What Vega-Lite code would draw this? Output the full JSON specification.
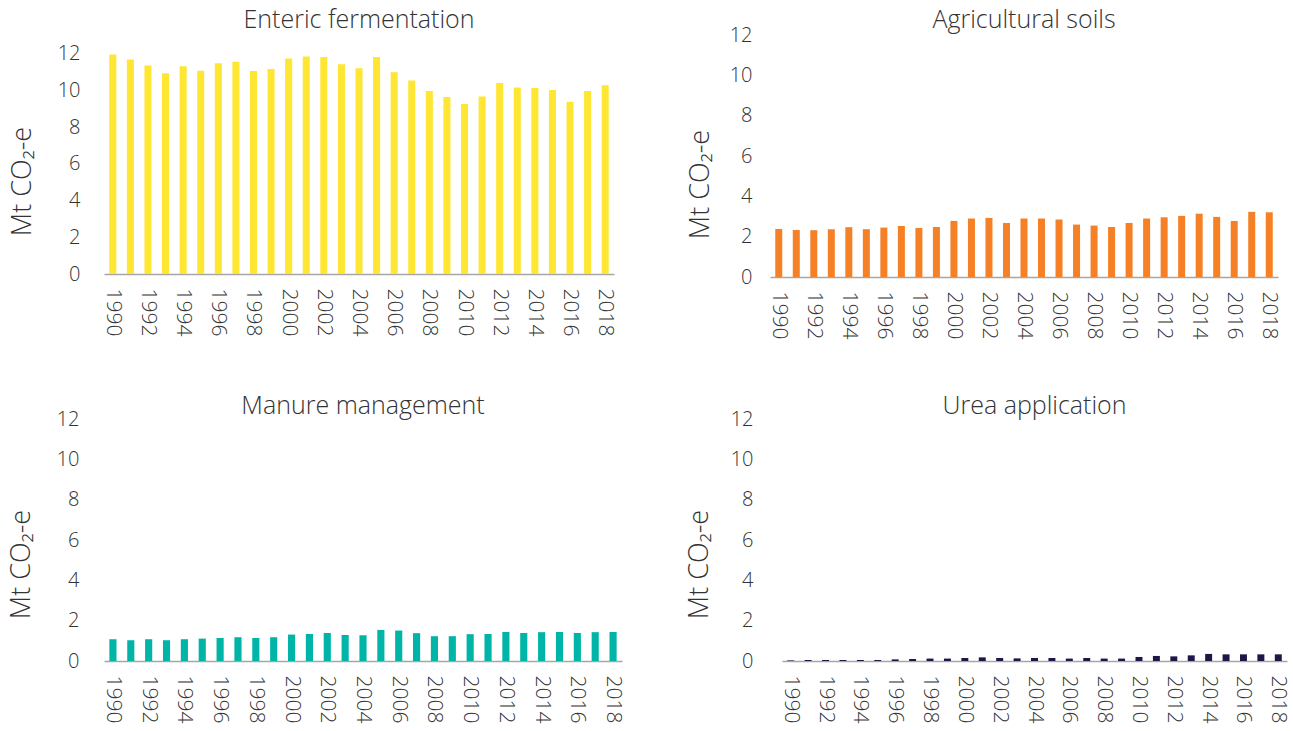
{
  "$schema": "https://vega.github.io/schema/vega-lite/v6.json",
  "background": "white",
  "padding": {"left": 7, "top": 8, "right": 5, "bottom": 5},
  "config": {
    "view": {"stroke": null},
    "font": "Open Sans",
    "title": {"font": "Open Sans", "fontSize": 25, "fontWeight": 300, "color": "#333333", "anchor": "middle"},
    "axis": {
      "labelFont": "Open Sans", "labelFontWeight": 300, "labelColor": "#333333", "labelFontSize": 20,
      "titleFont": "Open Sans", "titleFontWeight": 300, "titleColor": "#333333", "titleFontSize": 27,
      "ticks": false, "grid": false
    },
    "axisX": {"domainColor": "#A6A6A6", "domainWidth": 1.5, "labelAngle": 90, "labelPadding": 14, "labelFontSize": 21, "title": null},
    "axisY": {"domain": false, "titlePadding": 21}
  },
  "data": {"values": [
    {"year": 1990, "enteric": 11.97, "soils": 2.38, "manure": 1.08, "urea": 0.03},
    {"year": 1991, "enteric": 11.70, "soils": 2.33, "manure": 1.03, "urea": 0.05},
    {"year": 1992, "enteric": 11.37, "soils": 2.32, "manure": 1.08, "urea": 0.05},
    {"year": 1993, "enteric": 10.95, "soils": 2.37, "manure": 1.03, "urea": 0.05},
    {"year": 1994, "enteric": 11.33, "soils": 2.47, "manure": 1.08, "urea": 0.05},
    {"year": 1995, "enteric": 11.09, "soils": 2.37, "manure": 1.11, "urea": 0.05},
    {"year": 1996, "enteric": 11.49, "soils": 2.45, "manure": 1.14, "urea": 0.08},
    {"year": 1997, "enteric": 11.58, "soils": 2.53, "manure": 1.18, "urea": 0.10},
    {"year": 1998, "enteric": 11.07, "soils": 2.43, "manure": 1.14, "urea": 0.12},
    {"year": 1999, "enteric": 11.18, "soils": 2.48, "manure": 1.18, "urea": 0.12},
    {"year": 2000, "enteric": 11.75, "soils": 2.78, "manure": 1.31, "urea": 0.15},
    {"year": 2001, "enteric": 11.86, "soils": 2.90, "manure": 1.34, "urea": 0.18},
    {"year": 2002, "enteric": 11.83, "soils": 2.93, "manure": 1.39, "urea": 0.15},
    {"year": 2003, "enteric": 11.44, "soils": 2.68, "manure": 1.29, "urea": 0.13},
    {"year": 2004, "enteric": 11.22, "soils": 2.90, "manure": 1.28, "urea": 0.15},
    {"year": 2005, "enteric": 11.84, "soils": 2.90, "manure": 1.54, "urea": 0.15},
    {"year": 2006, "enteric": 11.00, "soils": 2.85, "manure": 1.51, "urea": 0.12},
    {"year": 2007, "enteric": 10.55, "soils": 2.60, "manure": 1.38, "urea": 0.15},
    {"year": 2008, "enteric": 9.98, "soils": 2.55, "manure": 1.23, "urea": 0.12},
    {"year": 2009, "enteric": 9.65, "soils": 2.48, "manure": 1.23, "urea": 0.12},
    {"year": 2010, "enteric": 9.27, "soils": 2.68, "manure": 1.33, "urea": 0.20},
    {"year": 2011, "enteric": 9.68, "soils": 2.90, "manure": 1.34, "urea": 0.25},
    {"year": 2012, "enteric": 10.42, "soils": 2.96, "manure": 1.44, "urea": 0.23},
    {"year": 2013, "enteric": 10.17, "soils": 3.03, "manure": 1.39, "urea": 0.28},
    {"year": 2014, "enteric": 10.15, "soils": 3.14, "manure": 1.43, "urea": 0.35},
    {"year": 2015, "enteric": 10.03, "soils": 2.98, "manure": 1.44, "urea": 0.33},
    {"year": 2016, "enteric": 9.40, "soils": 2.78, "manure": 1.39, "urea": 0.33},
    {"year": 2017, "enteric": 9.98, "soils": 3.23, "manure": 1.43, "urea": 0.33},
    {"year": 2018, "enteric": 10.30, "soils": 3.21, "manure": 1.44, "urea": 0.33}
  ]},
  "spacing": 55,
  "vconcat": [
    {
      "spacing": 70,
      "hconcat": [
        {
          "title": {"text": "Enteric fermentation", "offset": 2},
          "width": 510, "height": 239,
          "mark": {"type": "bar", "color": "#FFE632"},
          "encoding": {
            "x": {"field": "year", "type": "ordinal", "scale": {"paddingInner": 0.6, "paddingOuter": 0.3},
                  "axis": {"values": [1990, 1992, 1994, 1996, 1998, 2000, 2002, 2004, 2006, 2008, 2010, 2012, 2014, 2016, 2018]}},
            "y": {"field": "enteric", "type": "quantitative", "scale": {"domain": [0, 13.036], "nice": false},
                  "axis": {"values": [0, 2, 4, 6, 8, 10, 12], "title": "Mt CO₂-e", "labelPadding": 24, "titleY": 146}}
          }
        },
        {
          "title": {"text": "Agricultural soils", "offset": -8},
          "width": 508, "height": 242,
          "mark": {"type": "bar", "color": "#F58025"},
          "encoding": {
            "x": {"field": "year", "type": "ordinal", "scale": {"paddingInner": 0.6, "paddingOuter": 0.3},
                  "axis": {"values": [1990, 1992, 1994, 1996, 1998, 2000, 2002, 2004, 2006, 2008, 2010, 2012, 2014, 2016, 2018]}},
            "y": {"field": "soils", "type": "quantitative", "scale": {"domain": [0, 12]},
                  "axis": {"values": [0, 2, 4, 6, 8, 10, 12], "title": "Mt CO₂-e", "labelPadding": 18, "titlePadding": 15, "titleY": 149}}
          }
        }
      ],
      "resolve": {"scale": {"x": "independent", "y": "independent"}}
    },
    {
      "spacing": 61,
      "hconcat": [
        {
          "title": {"text": "Manure management", "offset": -10},
          "width": 518, "height": 242,
          "mark": {"type": "bar", "color": "#00B5A8"},
          "encoding": {
            "x": {"field": "year", "type": "ordinal", "scale": {"paddingInner": 0.6, "paddingOuter": 0.3},
                  "axis": {"values": [1990, 1992, 1994, 1996, 1998, 2000, 2002, 2004, 2006, 2008, 2010, 2012, 2014, 2016, 2018]}},
            "y": {"field": "manure", "type": "quantitative", "scale": {"domain": [0, 12]},
                  "axis": {"values": [0, 2, 4, 6, 8, 10, 12], "title": "Mt CO₂-e", "labelPadding": 25, "titleY": 145}}
          }
        },
        {
          "title": {"text": "Urea application", "offset": -10},
          "width": 505, "height": 242,
          "mark": {"type": "bar", "color": "#201547"},
          "encoding": {
            "x": {"field": "year", "type": "ordinal", "scale": {"paddingInner": 0.6, "paddingOuter": 0.3},
                  "axis": {"values": [1990, 1992, 1994, 1996, 1998, 2000, 2002, 2004, 2006, 2008, 2010, 2012, 2014, 2016, 2018]}},
            "y": {"field": "urea", "type": "quantitative", "scale": {"domain": [0, 12]},
                  "axis": {"values": [0, 2, 4, 6, 8, 10, 12], "title": "Mt CO₂-e", "labelPadding": 29, "titlePadding": 17, "titleY": 145}}
          }
        }
      ],
      "resolve": {"scale": {"x": "independent", "y": "independent"}}
    }
  ]
}
